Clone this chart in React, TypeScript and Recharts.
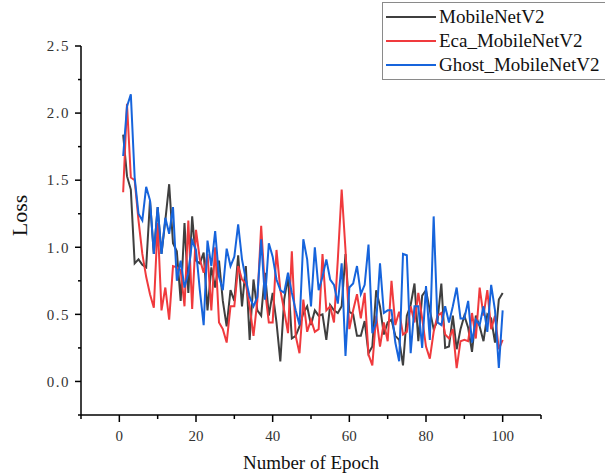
import { LineChart, Line, XAxis, YAxis, Legend, Label } from "recharts";

const mobileNetV2 = [
  1.84, 1.53, 1.43, 0.88, 0.91, 0.87, 0.85, 1.35, 0.95, 1.3,
  0.95, 1.2, 1.47, 1.03, 0.97, 0.6, 1.18, 0.66, 1.23, 0.9,
  0.88, 0.96, 0.53, 0.85, 0.7, 0.9, 0.6, 0.41, 0.68, 0.6,
  0.94, 0.56, 0.86, 0.31, 0.76, 0.53, 0.49, 0.81, 0.49, 0.66,
  0.44, 0.15, 0.61, 0.78, 0.32, 0.34, 0.41, 0.51, 0.56, 0.42,
  0.53, 0.49, 0.5, 0.31, 0.57, 0.53, 0.51, 0.56, 0.95, 0.52,
  0.5, 0.34, 0.34, 0.45, 0.21, 0.26, 0.68, 0.56, 0.35, 0.44,
  0.46, 0.34, 0.31, 0.12, 0.49, 0.57, 0.73, 0.3, 0.64, 0.68,
  0.53, 0.39, 0.45, 0.73, 0.25, 0.26, 0.49, 0.24, 0.39, 0.49,
  0.4, 0.22, 0.49, 0.41, 0.3, 0.5, 0.47, 0.29, 0.61, 0.66,
];

const ecaMobileNetV2 = [
  1.41, 2.07, 1.52, 1.5, 1.2, 0.95, 0.78, 0.65, 0.55, 1.18,
  0.53, 0.7, 0.46, 0.86, 0.85, 0.83, 0.56, 1.2, 0.54, 1.13,
  0.91, 0.81, 0.95, 0.53, 1.0, 0.44, 0.39, 0.29, 0.56, 0.56,
  0.86, 0.76, 0.73, 0.56, 0.34, 0.6, 1.16, 0.68, 0.44, 0.44,
  0.98, 0.68, 0.53, 0.36, 0.97, 0.34, 0.21, 0.61, 0.37, 0.46,
  0.37, 0.39, 0.95, 0.53, 0.56, 0.44, 0.91, 1.43, 0.98, 0.39,
  0.53, 0.65, 0.47, 0.66, 0.2, 0.12, 0.49, 0.26, 0.44, 0.3,
  0.75, 0.42, 0.52, 0.35, 0.37, 0.56, 0.44, 0.66, 0.47, 0.26,
  0.17, 0.37, 0.49, 0.51, 0.35, 0.32, 0.39, 0.1, 0.3, 0.31,
  0.3, 0.51, 0.32, 0.7, 0.49, 0.68, 0.39, 0.49, 0.24, 0.31,
];

const ghostMobileNetV2 = [
  1.68, 2.05, 2.14, 1.52, 1.25, 1.2, 1.45, 1.35, 0.95, 1.3,
  0.95, 1.22, 1.1, 1.3, 0.75, 0.9, 0.7, 0.81, 1.05, 0.98,
  0.68, 0.42, 1.05, 0.86, 1.12, 0.78, 0.68, 0.99, 0.86, 0.93,
  1.17, 0.91, 0.76, 0.63, 0.56, 0.63, 1.06, 0.61, 1.03, 0.93,
  0.76, 0.68, 0.66, 0.81, 0.66, 0.53, 0.42, 1.06, 0.91, 0.56,
  1.0, 0.68, 0.78, 0.91, 0.76, 0.72, 0.58, 0.88, 0.19, 0.7,
  0.73, 0.86, 0.65, 0.72, 1.02, 0.36, 0.44, 0.88, 0.51, 0.53,
  0.53, 0.29, 0.15, 0.95, 0.94, 0.21, 0.56, 0.56, 0.25, 0.71,
  0.31, 1.23, 0.44, 0.42, 0.56, 0.44, 0.56, 0.7, 0.47, 0.47,
  0.6, 0.29, 0.46, 0.42, 0.56, 0.37, 0.72, 0.53, 0.1, 0.53,
];

const seriesNames = ["MobileNetV2", "Eca_MobileNetV2", "Ghost_MobileNetV2"];

const xTicks = [-10, 0, 10, 20, 30, 40, 50, 60, 70, 80, 90, 100, 110];
const xLabelled = [0, 20, 40, 60, 80, 100];
const yTicks = [-0.25, 0, 0.25, 0.5, 0.75, 1, 1.25, 1.5, 1.75, 2, 2.25, 2.5];
const yLabelled = [0, 0.5, 1, 1.5, 2, 2.5];

const data = mobileNetV2.map((v, i) => ({
  epoch: i + 1,
  mobile: v,
  eca: ecaMobileNetV2[i],
  ghost: ghostMobileNetV2[i],
}));

const SERIF = '"Liberation Serif", "Times New Roman", serif';

// eslint-disable-next-line @typescript-eslint/no-explicit-any
function XTick({ x, y, payload }: any) {
  const major = xLabelled.includes(payload.value);
  return (
    <g>
      <line x1={x} y1={y} x2={x} y2={y + (major ? 7 : 4)} stroke="#000" strokeWidth={1.5} />
      {major && (
        <text x={x} y={y + 21} textAnchor="middle" dy="0.35em" fontSize={15} fontFamily={SERIF} fill="#333">
          {payload.value}
        </text>
      )}
    </g>
  );
}

// eslint-disable-next-line @typescript-eslint/no-explicit-any
function YTick({ x, y, payload }: any) {
  const major = yLabelled.some((t) => Math.abs(t - payload.value) < 1e-6);
  return (
    <g>
      <line x1={x} y1={y} x2={x - (major ? 6 : 3)} y2={y} stroke="#000" strokeWidth={1.5} />
      {major && (
        <text
          x={x - 11}
          y={y}
          textAnchor="end"
          dy="0.35em"
          fontSize={15}
          letterSpacing={1.5}
          fontFamily={SERIF}
          fill="#333"
        >
          {payload.value.toFixed(1)}
        </text>
      )}
    </g>
  );
}

// eslint-disable-next-line @typescript-eslint/no-explicit-any
function LegendBox({ payload }: any) {
  const items = [...payload].sort(
    // eslint-disable-next-line @typescript-eslint/no-explicit-any
    (a: any, b: any) => seriesNames.indexOf(a.value) - seriesNames.indexOf(b.value)
  );
  return (
    <div
      style={{
        border: "1px solid #8a8a8a",
        background: "#fff",
        padding: "2px 0 2px 3px",
        fontFamily: SERIF,
        fontSize: 19,
        color: "#111",
      }}
    >
      {items.map((entry: any) => (
        <div key={entry.value} style={{ display: "flex", alignItems: "center", height: 24 }}>
          <span style={{ width: 50, height: 0, borderTop: `2px solid ${entry.color}`, marginRight: 3 }} />
          <span>{entry.value}</span>
        </div>
      ))}
    </div>
  );
}

export default function App() {
  return (
    <div style={{ position: "absolute", left: 0, top: 0, width: 605, height: 476, overflow: "hidden", background: "#fff" }}>
      <LineChart width={605} height={476} data={data} margin={{ top: 46, right: 64, left: 31, bottom: 21 }}>
        <XAxis
          dataKey="epoch"
          type="number"
          domain={[-10, 110]}
          ticks={xTicks}
          interval={0}
          tickSize={0}
          tickMargin={0}
          tickLine={false}
          tick={<XTick />}
          height={40}
          axisLine={{ stroke: "#000", strokeWidth: 1.5 }}
        >
          <Label
            value="Number of Epoch"
            position="bottom"
            offset={0}
            content={({ viewBox }: any) => (
              <text
                x={viewBox.x + viewBox.width / 2}
                y={viewBox.y + 47}
                textAnchor="middle"
                dy="0.35em"
                fontSize={19}
                fontFamily={SERIF}
                fill="#111"
              >
                Number of Epoch
              </text>
            )}
          />
        </XAxis>
        <YAxis
          type="number"
          domain={[-0.25, 2.5]}
          ticks={yTicks}
          interval={0}
          tickSize={0}
          tickMargin={0}
          tickLine={false}
          tick={<YTick />}
          width={50}
          axisLine={{ stroke: "#000", strokeWidth: 1.5 }}
        >
          <Label
            value="Loss"
            content={({ viewBox }: any) => {
              const lx = viewBox.x - 12;
              const ly = viewBox.y + viewBox.height / 2 - 15;
              return (
                <text
                  x={lx}
                  y={ly}
                  transform={`rotate(-90 ${lx} ${ly})`}
                  textAnchor="middle"
                  dy="0.35em"
                  fontSize={22}
                  fontFamily={SERIF}
                  fill="#111"
                >
                  Loss
                </text>
              );
            }}
          />
        </YAxis>
        <Legend
          layout="horizontal"
          verticalAlign="middle"
          align="center"
          width={224}
          wrapperStyle={{ top: 2, left: 382 }}
          content={<LegendBox />}
        />
        <Line
          name="MobileNetV2"
          dataKey="mobile"
          stroke="#3f3f3f"
          strokeWidth={2}
          dot={false}
          isAnimationActive={false}
        />
        <Line
          name="Eca_MobileNetV2"
          dataKey="eca"
          stroke="#f03a3d"
          strokeWidth={2}
          dot={false}
          isAnimationActive={false}
        />
        <Line
          name="Ghost_MobileNetV2"
          dataKey="ghost"
          stroke="#1664dc"
          strokeWidth={2}
          dot={false}
          isAnimationActive={false}
        />
      </LineChart>
    </div>
  );
}
